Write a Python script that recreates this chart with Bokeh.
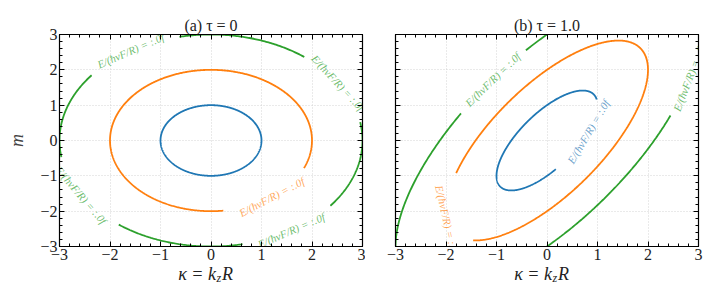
import numpy as np
from bokeh.plotting import figure
from bokeh.models import Range1d, LinearAxis, FixedTicker, ColumnDataSource
from bokeh.layouts import row, column
from bokeh.embed import file_html
from bokeh.resources import INLINE
from bokeh.core.properties import value

# ---------------- data ----------------
panel_titles = ["(a) τ = 0", "(b) τ = 1.0"]
taus = [0.0, 1.0]
levels = [1, 2, 3]                      # E/(ħv_F/R) contour levels
level_colors = ["#1f77b4", "#ff7f0e", "#2ca02c"]
major_ticks = [-3, -2, -1, 0, 1, 2, 3]
minor_ticks = [round(-3 + 0.2 * k, 1) for k in range(31)]
contour_label = "E/(ħvF/R) = :.0f"
x_label_parts = ["κ = k", "z", "R"]     # κ = k_z R
y_label = "m"
# inline-label gaps along each contour (contour parameter, degrees) and label centres
gaps = [
    {1: [], 2: [(277, 337)], 3: [(10, 52), (102, 142), (189, 232.5), (282, 322)]},
    {1: [(280, 370)], 2: [(154, 223)], 3: [(98, 124.6), (324.6, 360)]},
]
label_pos = [
    {1: [], 2: [307], 3: [33, 122, 211, 302]},
    {1: [325], 2: [188], 3: [111, 340]},
]

FONT = "Liberation Serif"
FW, FH = 303, 212
LEFT = [59, 30]
RIGHT = [3, 10]


def visible_arcs(gl):
    if not gl:
        return [(0.0, 360.0)]
    gl = sorted(gl)
    arcs = []
    for i, (s, e) in enumerate(gl):
        ns = gl[(i + 1) % len(gl)][0] + (360 if i + 1 == len(gl) else 0)
        if ns > e:
            arcs.append((e, ns))
    return arcs


def contour_xy(E, tau, th_deg):
    th = np.radians(th_deg)
    k = E * np.cos(th)
    m = E * np.sin(th) + tau * k
    return k, m


def make_ticker():
    return FixedTicker(ticks=major_ticks, minor_ticks=minor_ticks)


def tick_text(t):
    return "−%d" % -t if t < 0 else str(t)


def make_panel(idx):
    tau = taus[idx]
    first = idx == 0
    p = figure(frame_width=FW, frame_height=FH,
               x_range=Range1d(-3, 3), y_range=Range1d(-3, 3),
               output_backend="svg", toolbar_location=None,
               min_border_left=LEFT[idx], min_border_right=RIGHT[idx],
               min_border_top=34, min_border_bottom=10,
               background_fill_color="white", border_fill_color="white")
    p.title.text = panel_titles[idx]
    p.title.align = "center"
    p.title.text_font = FONT
    p.title.text_font_size = "16px"
    p.title.text_font_style = "normal"
    p.title.text_color = "#222222"
    p.title.standoff = 2

    p.outline_line_color = "black"
    p.outline_line_width = 1.2

    for ax in (p.xaxis[0], p.yaxis[0]):
        ax.ticker = make_ticker()
        ax.major_tick_in = 5
        ax.major_tick_out = 0
        ax.minor_tick_in = 3
        ax.minor_tick_out = 0
        ax.major_tick_line_color = "black"
        ax.minor_tick_line_color = "black"
        ax.axis_line_color = "black"
        ax.major_label_text_font = FONT
        ax.major_label_text_font_size = "16px"
        ax.major_label_text_color = "#222222"
        ax.major_label_standoff = 2
        ax.major_label_overrides = {t: tick_text(t) for t in major_ticks}
    if first:
        p.yaxis[0].axis_label = y_label
        p.yaxis[0].axis_label_text_font = FONT
        p.yaxis[0].axis_label_text_font_style = "italic"
        p.yaxis[0].axis_label_text_font_size = "18px"
        p.yaxis[0].axis_label_standoff = 10
    else:
        p.yaxis[0].major_label_text_font_size = "1px"
        p.yaxis[0].major_label_text_color = None
        p.yaxis[0].major_label_standoff = 0

    for loc in ("above", "right"):
        ax = LinearAxis(ticker=make_ticker(), major_label_text_font_size="1px",
                        major_label_text_color=None,
                        major_label_standoff=0, major_tick_in=5, major_tick_out=0,
                        minor_tick_in=3, minor_tick_out=0, axis_line_color="black")
        p.add_layout(ax, loc)

    p.grid.ticker = make_ticker()
    p.grid.grid_line_color = "#cfcfcf"
    p.grid.grid_line_dash = "1 2"
    p.grid.grid_line_width = 0.9

    sx, sy = FW / 6.0, FH / 6.0
    for E, col in zip(levels, level_colors):
        xs, ys = [], []
        for a, b in visible_arcs(gaps[idx][E]):
            th = np.linspace(a, b, max(int((b - a) * 2), 4))
            k, m = contour_xy(E, tau, th)
            xs.append(k.tolist())
            ys.append(m.tolist())
        p.multi_line(xs, ys, line_color=col, line_width=1.8)

        tx, ty, ta = [], [], []
        for thc in label_pos[idx][E]:
            k, m = contour_xy(E, tau, thc)
            t = np.radians(thc)
            dk = -E * np.sin(t)
            dm = E * np.cos(t) + tau * dk
            ang = np.arctan2(dm * sy, dk * sx)
            if ang > np.pi / 2:
                ang -= np.pi
            if ang <= -np.pi / 2:
                ang += np.pi
            tx.append(float(k)); ty.append(float(m)); ta.append(float(ang))
        if tx:
            src = ColumnDataSource(dict(x=tx, y=ty, angle=ta, text=[contour_label] * len(tx)))
            p.text(x="x", y="y", text="text", angle="angle", source=src,
                   text_font=value(FONT), text_font_style="italic", text_font_size="11px",
                   text_color=col, text_alpha=0.7, text_align="center", text_baseline="middle")
    return p


def make_xlabel(idx):
    # strip below each panel carrying the x-axis title  κ = k_z R
    q = figure(frame_width=FW, frame_height=26,
               x_range=Range1d(-3, 3), y_range=Range1d(0, 26),
               x_axis_type=None, y_axis_type=None,
               output_backend="svg", toolbar_location=None,
               min_border_left=LEFT[idx], min_border_right=RIGHT[idx],
               min_border_top=0, min_border_bottom=0,
               background_fill_color="white", border_fill_color="white")
    q.outline_line_color = None
    q.grid.visible = False
    common = dict(text_font=value(FONT), text_font_style="italic",
                  text_color="#222222", text_baseline="middle")
    q.text(x=[0], y=[15], text=[x_label_parts[0]], text_align="right", x_offset=5,
           text_font_size="18px", **common)
    q.text(x=[0], y=[11], text=[x_label_parts[1]], text_align="left", x_offset=5.5,
           text_font_size="12px", **common)
    q.text(x=[0], y=[15], text=[x_label_parts[2]], text_align="left", x_offset=11,
           text_font_size="18px", **common)
    return q


layout = column(row(make_panel(0), make_panel(1)),
                row(make_xlabel(0), make_xlabel(1)))
open("out.html", "w").write(file_html(layout, INLINE))
